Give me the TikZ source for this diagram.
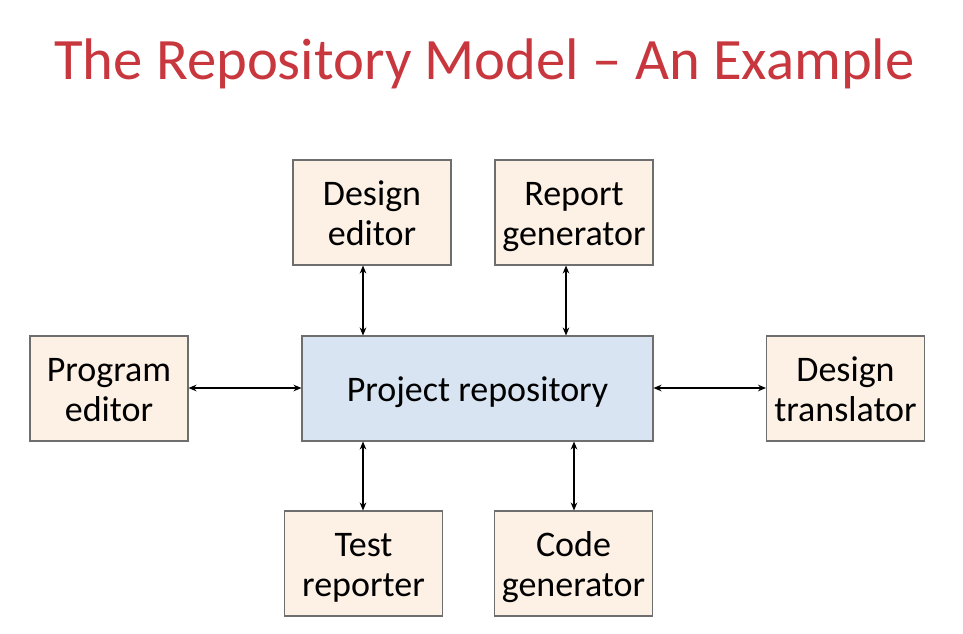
\documentclass[tikz,border=0pt]{standalone}
\usepackage{fontspec}
\setmainfont{Carlito}
\usetikzlibrary{arrows.meta}
\definecolor{peach}{HTML}{FDF1E6}
\definecolor{repoblue}{HTML}{D8E4F1}
\definecolor{edge}{HTML}{6E6E6E}
\definecolor{titlered}{HTML}{C8373E}
\newcommand\bstrut{\rule[-5.6pt]{0pt}{30pt}}
\tikzset{
  box/.style={draw=edge, line width=0.8pt, fill=peach, minimum width=118.5pt, minimum height=78.75pt, inner sep=0pt, align=center, font=\fontsize{27}{30}\selectfont},
  repo/.style={box, fill=repoblue, minimum width=263.25pt},
  arr/.style={{Stealth[length=6pt,width=5pt]}-{Stealth[length=6pt,width=5pt]}, line width=0.9pt, black}
}
\begin{document}
\begin{tikzpicture}[x=0.75pt,y=-0.75pt]
\useasboundingbox (0,0) rectangle (963,633);
\node[anchor=base, text=titlered, font=\fontsize{44}{48}\selectfont] (title) at (484.5,79) {The Repository Model – An Example};
\node[box] (de) at (372,212.5) {\bstrut Design\\\bstrut editor};
\node[box] (rg) at (574,212.5) {\bstrut Report\\\bstrut generator};
\node[box] (pe) at (109,388.5) {\bstrut Program\\\bstrut editor};
\node[repo] (pr) at (477.5,388.5) {\bstrut Project repository};
\node[box] (dt) at (845.5,388.5) {\bstrut Design\\\bstrut translator};
\node[box] (tr) at (363.5,563.5) {\bstrut Test\\\bstrut reporter};
\node[box] (cg) at (573.5,563.5) {\bstrut Code\\\bstrut generator};
\coordinate (xa) at (363,0);
\coordinate (xb) at (566,0);
\coordinate (xc) at (574,0);
\coordinate (yh) at (0,388);
\draw[arr] (de.south -| xa) -- (pr.north -| xa);
\draw[arr] (rg.south -| xb) -- (pr.north -| xb);
\draw[arr] (tr.north -| xa) -- (pr.south -| xa);
\draw[arr] (cg.north -| xc) -- (pr.south -| xc);
\draw[arr] (pe.east |- yh) -- (pr.west |- yh);
\draw[arr] (pr.east |- yh) -- (dt.west |- yh);
\end{tikzpicture}
\end{document}
